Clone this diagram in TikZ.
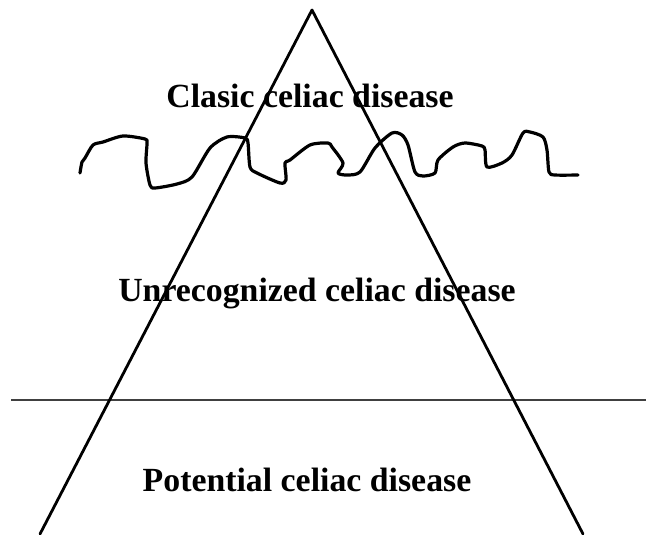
\documentclass[tikz,border=0pt]{standalone}
\usepackage{fontspec}
\setmainfont{Liberation Serif}
\begin{document}
\begin{tikzpicture}[x=1pt,y=-1pt,
  lbl/.style={font=\fontsize{33.8}{36}\selectfont\bfseries, inner sep=0pt, anchor=base},
  edge/.style={line width=2.8pt, line cap=round, line join=round}]
\useasboundingbox (0,0) rectangle (646,535);
\coordinate (apex) at (312,10);
\coordinate (bl) at (40,534);
\coordinate (br) at (583,534);
\coordinate (hl) at (11,400);
\coordinate (hr) at (646,400);
\draw[line width=1.4pt, draw=black!75] (hl) -- (hr);
\draw[edge] (bl) -- (apex) -- (br);
\draw[line width=3.2pt, line cap=round, line join=round] plot[smooth, tension=0.45] coordinates {
(80,173) (82,162) (85,158) (93,145) (103,142) (123,136) (145,139) (147,143) (146,163) (150,185) (155,188) (177,184) (192,177) (210,148) (227,137) (245,138) (248,143) (250,167) (257,173) (280,183) (286,180) (285,163) (290,160) (310,145) (328,143) (332,147) (343,163) (338,173) (347,175) (360,172) (375,148) (392,133) (402,135) (408,145) (415,172) (423,176) (435,173) (438,160) (453,147) (465,143) (482,146) (485,150) (487,167) (502,163) (512,155) (523,133) (530,132) (543,137) (547,150) (549,172) (555,175) (578,175)};
\node[lbl] (t1) at (310,108) {Clasic celiac disease};
\node[lbl] (t2) at (317,301) {Unrecognized celiac disease};
\node[lbl] (t3) at (307,491) {Potential celiac disease};
\end{tikzpicture}
\end{document}
